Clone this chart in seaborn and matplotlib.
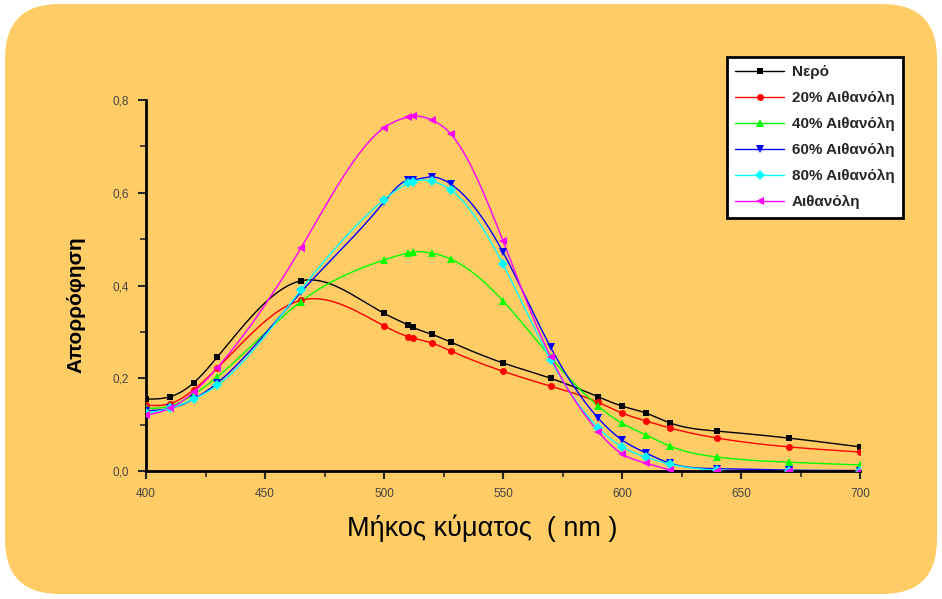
import numpy as np
import pandas as pd
import matplotlib
matplotlib.use("Agg")
import matplotlib.pyplot as plt
import seaborn as sns
from matplotlib.patches import FancyBboxPatch
from matplotlib.lines import Line2D
from matplotlib.ticker import MultipleLocator, FuncFormatter

wavelength = [400, 410, 420, 430, 465, 500, 510, 512, 520, 528, 550, 570, 590, 600, 610, 620, 640, 670, 700]
water =      [0.155, 0.160, 0.190, 0.246, 0.410, 0.340, 0.315, 0.310, 0.295, 0.278, 0.233, 0.200, 0.160, 0.140, 0.125, 0.104, 0.086, 0.071, 0.052]
eth20 =      [0.142, 0.145, 0.175, 0.222, 0.368, 0.313, 0.290, 0.287, 0.276, 0.259, 0.215, 0.183, 0.148, 0.125, 0.108, 0.093, 0.071, 0.052, 0.041]
eth40 =      [0.135, 0.140, 0.165, 0.203, 0.365, 0.455, 0.470, 0.472, 0.470, 0.457, 0.367, 0.245, 0.140, 0.103, 0.078, 0.054, 0.030, 0.019, 0.013]
eth60 =      [0.130, 0.135, 0.155, 0.190, 0.385, 0.580, 0.627, 0.628, 0.634, 0.619, 0.472, 0.267, 0.114, 0.067, 0.039, 0.017, 0.005, 0.002, 0.001]
eth80 =      [0.125, 0.135, 0.155, 0.185, 0.390, 0.585, 0.620, 0.624, 0.625, 0.606, 0.446, 0.240, 0.093, 0.052, 0.030, 0.015, 0.002, 0.001, 0.000]
ethanol =    [0.120, 0.135, 0.170, 0.223, 0.480, 0.740, 0.763, 0.765, 0.757, 0.727, 0.496, 0.246, 0.085, 0.037, 0.017, 0.003, 0.000, 0.000, 0.000]

labels = ["Νερό", "20% Αιθανόλη", "40% Αιθανόλη", "60% Αιθανόλη", "80% Αιθανόλη", "Αιθανόλη"]
series = [water, eth20, eth40, eth60, eth80, ethanol]
colors = ["#000000", "#FF0000", "#00FF00", "#0000FF", "#00FFFF", "#FF00FF"]
markers = ["s", "o", "^", "v", "D", "<"]
msizes = [5, 5, 6, 6, 5, 6]

BG = "#FFCC66"


def natural_spline(x, y, xs):
    x = np.asarray(x, float); y = np.asarray(y, float)
    n = len(x)
    h = np.diff(x)
    A = np.zeros((n, n)); b = np.zeros(n)
    A[0, 0] = 1; A[-1, -1] = 1
    for i in range(1, n - 1):
        A[i, i - 1] = h[i - 1]
        A[i, i] = 2 * (h[i - 1] + h[i])
        A[i, i + 1] = h[i]
        b[i] = 3 * ((y[i + 1] - y[i]) / h[i] - (y[i] - y[i - 1]) / h[i - 1])
    c = np.linalg.solve(A, b)
    bb = np.zeros(n - 1); d = np.zeros(n - 1)
    for i in range(n - 1):
        bb[i] = (y[i + 1] - y[i]) / h[i] - h[i] * (2 * c[i] + c[i + 1]) / 3
        d[i] = (c[i + 1] - c[i]) / (3 * h[i])
    idx = np.clip(np.searchsorted(x, xs, side="right") - 1, 0, n - 2)
    dx = xs - x[idx]
    return y[idx] + bb[idx] * dx + c[idx] * dx ** 2 + d[idx] * dx ** 3


xs = np.linspace(400, 700, 601)
curve_rows = []
point_rows = []
for lab, ys in zip(labels, series):
    sm = natural_spline(wavelength, ys, xs)
    curve_rows.append(pd.DataFrame({"x": xs, "y": sm, "s": lab}))
    point_rows.append(pd.DataFrame({"x": wavelength, "y": ys, "s": lab}))
curves = pd.concat(curve_rows, ignore_index=True)
points = pd.concat(point_rows, ignore_index=True)

sns.set_style("ticks")
plt.rcParams["font.family"] = ["Liberation Sans", "DejaVu Sans"]

fig = plt.figure(figsize=(9.42, 5.99), dpi=100)
fig.patch.set_facecolor("white")
bgpatch = FancyBboxPatch((5 / 942, 5 / 599), 932 / 942, 590 / 599,
                         boxstyle="round,pad=0,rounding_size=0.058",
                         mutation_aspect=942 / 599,
                         transform=fig.transFigure, facecolor=BG, edgecolor="none", zorder=-10)
fig.patches.append(bgpatch)

ax = fig.add_axes([146 / 942, 128 / 599, 714 / 942, 371 / 599])
ax.set_facecolor("none")

palette = dict(zip(labels, colors))
sns.lineplot(data=curves, x="x", y="y", hue="s", palette=palette, linewidth=1.0,
             legend=False, ax=ax, sort=False, estimator=None)
for lab, col, mk, ms in zip(labels, colors, markers, msizes):
    sub = points[points["s"] == lab]
    ax.plot(sub["x"], sub["y"], linestyle="none", marker=mk, color=col, markersize=ms,
            markeredgewidth=0, zorder=5)

ax.set_xlim(400, 700)
ax.set_ylim(0, 0.8)
ax.xaxis.set_major_locator(MultipleLocator(50))
ax.xaxis.set_minor_locator(MultipleLocator(25))
ax.yaxis.set_major_locator(MultipleLocator(0.2))
ax.yaxis.set_minor_locator(MultipleLocator(0.1))
ax.yaxis.set_major_formatter(FuncFormatter(lambda v, p: f"{v:.1f}".replace(".", ",")))
ax.xaxis.set_major_formatter(FuncFormatter(lambda v, p: f"{int(round(v))}"))
for s in ["top", "right"]:
    ax.spines[s].set_visible(False)
for s in ["left", "bottom"]:
    ax.spines[s].set_linewidth(2.0)
    ax.spines[s].set_color("black")
ax.tick_params(which="major", direction="out", length=6, width=1.5, labelsize=8.5, labelcolor="#444444", pad=6)
ax.tick_params(which="minor", direction="out", length=4, width=1.2)
ax.set_xlabel("")
ax.set_ylabel("")

fig.text(482 / 942, 1 - 528 / 599, "Μήκος κύματος  ( nm )", ha="center", va="center",
         fontsize=19.5, color="black")
fig.text(76 / 942, 1 - 305 / 599, "Απορρόφηση", ha="center", va="center", rotation=90,
         fontsize=15, fontweight="bold", color="black")

handles = [Line2D([0], [0], color=c, marker=m, markersize=ms, markeredgewidth=0, linewidth=1.0)
           for c, m, ms in zip(colors, markers, msizes)]
leg = fig.legend(handles, labels, loc="upper left", bbox_to_anchor=(727 / 942, 1 - 57 / 599),
                 frameon=True, fancybox=False, edgecolor="black", facecolor="white",
                 framealpha=1, prop={"size": 11, "weight": "bold"}, handlelength=3.2,
                 labelspacing=0.78, borderpad=0.55, handletextpad=0.5, borderaxespad=0)
leg.get_frame().set_linewidth(2.0)

fig.savefig("out.png", dpi=100, facecolor="white")
